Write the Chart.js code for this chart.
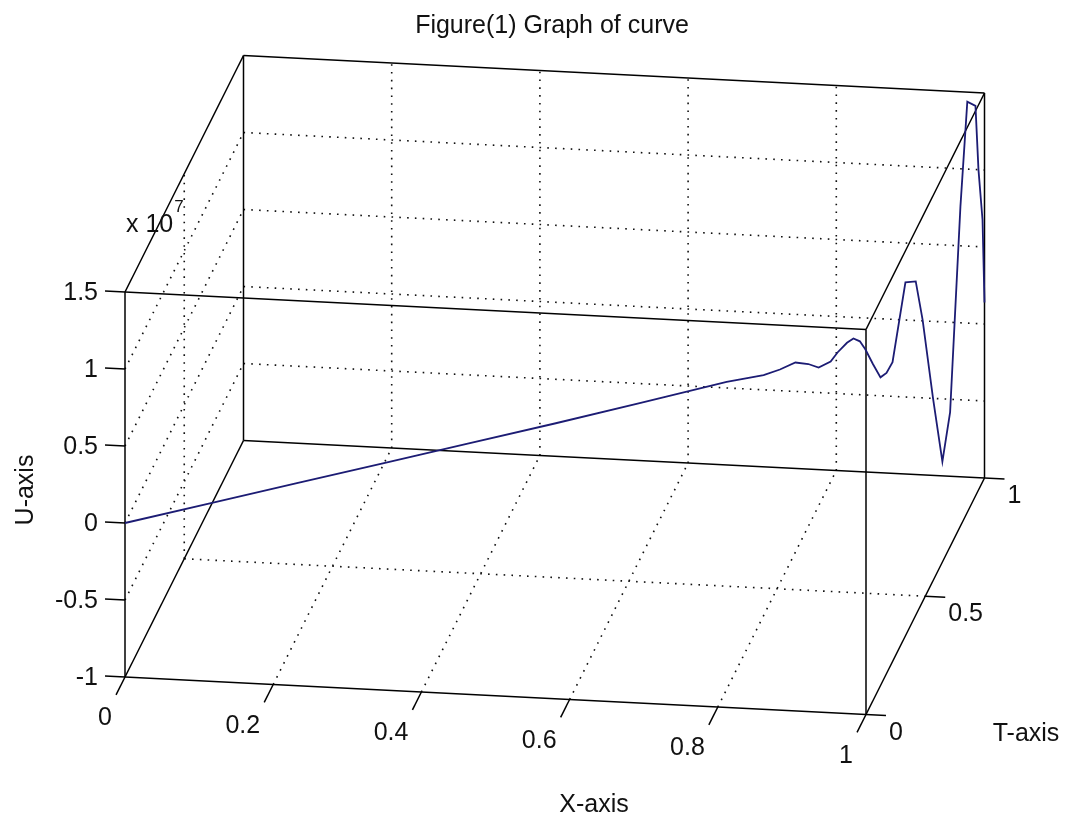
<!DOCTYPE html>
<html>
<head>
<meta charset="utf-8">
<title>Figure(1) Graph of curve</title>
<script src="https://cdn.jsdelivr.net/npm/chart.js@4.4.1/dist/chart.umd.min.js"></script>
<style>
  html, body { margin: 0; padding: 0; background: #fff; }
  .plot-wrap { position: relative; width: 1065px; height: 823px; }
</style>
</head>
<body>
<div class="plot-wrap"><canvas id="curve3d"></canvas></div>
<script>
// the curve runs along the diagonal x = t; u is in units of 1e7
const xValues = [0, 0.1, 0.2, 0.3, 0.4, 0.5, 0.6, 0.7, 0.743, 0.762, 0.78, 0.795, 0.807, 0.821, 0.829, 0.84, 0.8475, 0.855, 0.8615, 0.87, 0.879, 0.886, 0.893, 0.908, 0.92, 0.928, 0.94, 0.951, 0.96, 0.972, 0.98, 0.9895, 0.993, 0.9977, 1];
const tValues = [0, 0.1, 0.2, 0.3, 0.4, 0.5, 0.6, 0.7, 0.743, 0.762, 0.78, 0.795, 0.807, 0.821, 0.829, 0.84, 0.8475, 0.855, 0.8615, 0.87, 0.879, 0.886, 0.893, 0.908, 0.92, 0.928, 0.94, 0.951, 0.96, 0.972, 0.98, 0.9895, 0.993, 0.9977, 1];
const uValues = [0, 0, 0, 0, 0, 0, 0.005, 0.012, 0, 0.012, 0.034, 0.005, -0.034, -0.013, 0.036, 0.085, 0.103, 0.075, 0.013, -0.09, -0.19, -0.17, -0.11, 0.39, 0.38, 0.12, -0.4, -0.83, -0.52, 0.8, 1.47, 1.43, 1.01, 0.68, 0.14];

const xTicks = [0, 0.2, 0.4, 0.6, 0.8, 1];
const tTicks = [0, 0.5, 1];
const uTicks = [-1, -0.5, 0, 0.5, 1, 1.5];
const xTickLabels = ['0', '0.2', '0.4', '0.6', '0.8', '1'];
const tTickLabels = ['0', '0.5', '1'];
const uTickLabels = ['-1', '-0.5', '0', '0.5', '1', '1.5'];
const xLim = [0, 1];
const tLim = [0, 1];
const uLim = [-1, 1.5];

// view: where corner (xmin, tmin, umin) lands and how one unit of each axis runs on screen
const view = { ox: 125, oy: 677, ex: [741, 37.5], et: [118.5, -236.5], eu: [0, -154] };
const W = 1065, H = 823;
const FONT = '"Liberation Sans", Arial, Helvetica, sans-serif';

function project(x, t, u) {
  const a = x - xLim[0], b = t - tLim[0], c = u - uLim[0];
  return {
    x: view.ox + a * view.ex[0] + b * view.et[0] + c * view.eu[0],
    y: view.oy + a * view.ex[1] + b * view.et[1] + c * view.eu[1]
  };
}

function unit(v) {
  const n = Math.hypot(v[0], v[1]);
  return [v[0] / n, v[1] / n];
}

const boxStyle = { borderColor: '#000', borderWidth: 1.5, order: 1 };
const gridStyle = { borderColor: '#111', borderWidth: 1.6, borderDash: [1.6, 6.2], order: 2 };

function segment(p, q, style) {
  return { data: [project(...p), project(...q)], ...style };
}

const datasets = [];

// curve
datasets.push({
  data: xValues.map((x, i) => project(x, tValues[i], uValues[i])),
  borderColor: '#1c1c74',
  borderWidth: 1.8,
  order: 0
});

// box: every edge between corners that differ in one coordinate
const corners = [];
for (const x of xLim) for (const t of tLim) for (const u of uLim) corners.push([x, t, u]);
for (let i = 0; i < corners.length; i++) {
  for (let j = i + 1; j < corners.length; j++) {
    const diff = corners[i].filter((v, k) => v !== corners[j][k]).length;
    if (diff === 1) datasets.push(segment(corners[i], corners[j], boxStyle));
  }
}

// grid on the back planes: floor (u = umin), left wall (x = xmin), back wall (t = tmax)
xTicks.slice(1, -1).forEach(x => {
  datasets.push(segment([x, tLim[0], uLim[0]], [x, tLim[1], uLim[0]], gridStyle));
  datasets.push(segment([x, tLim[1], uLim[0]], [x, tLim[1], uLim[1]], gridStyle));
});
tTicks.slice(1, -1).forEach(t => {
  datasets.push(segment([xLim[0], t, uLim[0]], [xLim[1], t, uLim[0]], gridStyle));
  datasets.push(segment([xLim[0], t, uLim[0]], [xLim[0], t, uLim[1]], gridStyle));
});
uTicks.slice(1, -1).forEach(u => {
  datasets.push(segment([xLim[0], tLim[0], u], [xLim[0], tLim[1], u], gridStyle));
  datasets.push(segment([xLim[0], tLim[1], u], [xLim[1], tLim[1], u], gridStyle));
});

// tick marks
const TICK = 20;
const exU = unit(view.ex), etU = unit(view.et);
function tickMark(p, dir) {
  return { data: [p, { x: p.x + dir[0] * TICK, y: p.y + dir[1] * TICK }], ...boxStyle };
}
xTicks.forEach(x => datasets.push(tickMark(project(x, tLim[0], uLim[0]), [-etU[0], -etU[1]])));
tTicks.forEach(t => datasets.push(tickMark(project(xLim[1], t, uLim[0]), exU)));
uTicks.forEach(u => datasets.push(tickMark(project(xLim[0], tLim[0], u), [-exU[0], -exU[1]])));

const axisText = {
  id: 'axisText',
  afterDraw(chart) {
    const { ctx } = chart;
    const sx = chart.scales.x, sy = chart.scales.y;
    const px = p => ({ x: sx.getPixelForValue(p.x), y: sy.getPixelForValue(p.y) });
    ctx.save();
    ctx.fillStyle = '#111';
    ctx.font = '25px ' + FONT;
    ctx.textBaseline = 'alphabetic';

    ctx.textAlign = 'right';
    xTicks.forEach((x, i) => {
      const p = px(project(x, tLim[0], uLim[0]));
      ctx.fillText(xTickLabels[i], p.x - 13, p.y + 48);
    });
    uTicks.forEach((u, i) => {
      const p = px(project(xLim[0], tLim[0], u));
      ctx.fillText(uTickLabels[i], p.x - 27, p.y + 8);
    });
    ctx.textAlign = 'left';
    tTicks.forEach((t, i) => {
      const p = px(project(xLim[1], t, uLim[0]));
      ctx.fillText(tTickLabels[i], p.x + 23, p.y + 25);
    });

    // exponent label above the U axis
    const top = px(project(xLim[0], tLim[0], uLim[1]));
    ctx.fillText('x 10', top.x + 1, top.y - 60);
    const w = ctx.measureText('x 10').width;
    ctx.font = '17px ' + FONT;
    ctx.fillText('7', top.x + 1 + w + 1, top.y - 80);

    ctx.font = '25px ' + FONT;
    ctx.textAlign = 'center';
    ctx.fillText('Figure(1) Graph of curve', 552, 33);
    ctx.fillText('X-axis', 594, 812);
    ctx.fillText('T-axis', 1026, 741);
    ctx.translate(33, 490);
    ctx.rotate(-Math.PI / 2);
    ctx.fillText('U-axis', 0, 0);
    ctx.restore();
  }
};

const ctx = document.getElementById('curve3d').getContext('2d');
new Chart(ctx, {
  type: 'line',
  data: { datasets },
  options: {
    responsive: true,
    maintainAspectRatio: false,
    animation: false,
    layout: { padding: 0 },
    elements: {
      point: { radius: 0, hoverRadius: 0 },
      line: { tension: 0, fill: false }
    },
    scales: {
      x: { type: 'linear', min: 0, max: W, display: false },
      y: { type: 'linear', min: 0, max: H, reverse: true, display: false }
    },
    plugins: {
      legend: { display: false },
      tooltip: { enabled: false }
    }
  },
  plugins: [axisText]
});
</script>
</body>
</html>
